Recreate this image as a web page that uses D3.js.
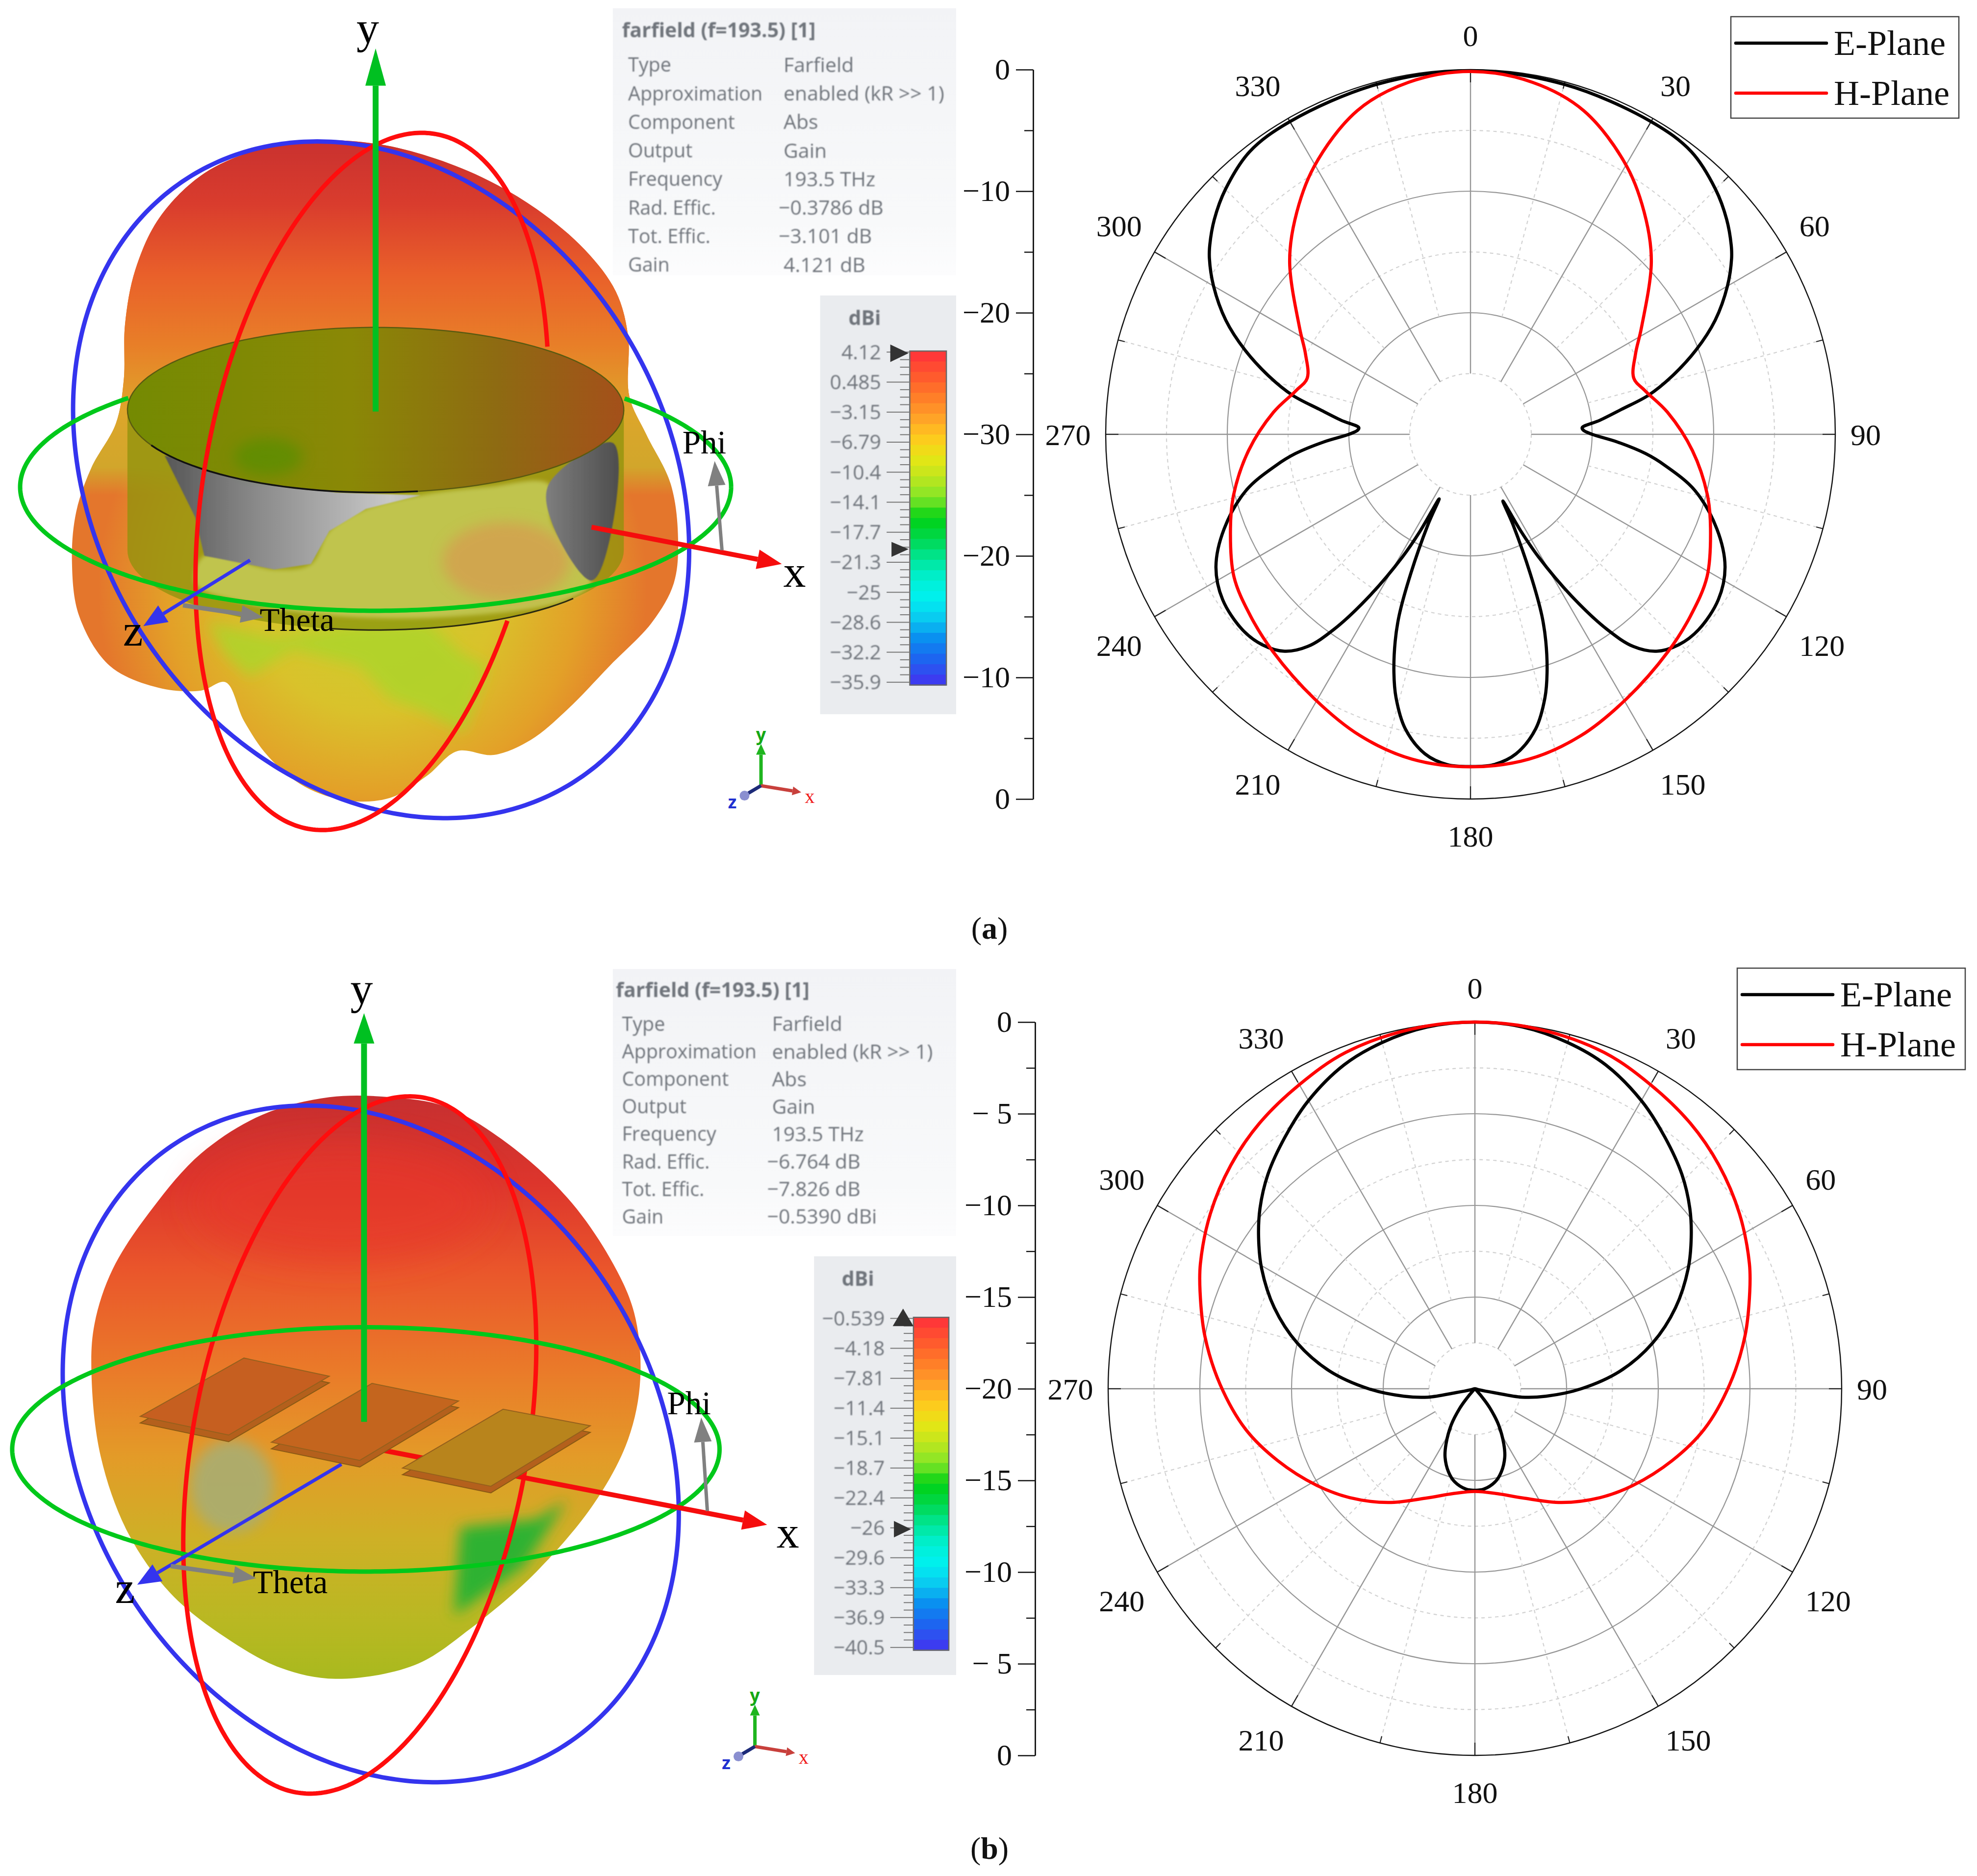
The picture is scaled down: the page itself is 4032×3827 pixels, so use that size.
<!DOCTYPE html>
<html>
<head>
<meta charset="utf-8">
<style>
  html, body { margin: 0; padding: 0; background: #fff; }
  svg { display: block; }
  text { font-family: "Liberation Serif", serif; fill: #111; }
</style>
<script src="https://cdn.jsdelivr.net/npm/d3@7"></script>
</head>
<body>
<div id="figure"></div>
<script>
// polar pattern (a), angles in degrees and gain in dB
var eAnglesA = [0,15,30,38,45,50,54,56,60,65,69.5,74,77.6,80.6,83.8,86.6,88,90,93,96.3,99.1,104,111,117.5,123.7,130.6,135.3,139.4,142.5,145,148,151,152.5,154.1,154.8,156.8,158.5,160,162.2,164.2,167.5,171.9,176,180,
  184,188.1,192.5,195.8,197.8,200,201.5,203.2,205.2,205.9,207.5,209,212,215,217.5,220.6,224.7,229.4,236.3,242.5,249,256,260.9,263.7,267,270,272,273.4,276.2,279.4,282.4,286,290.5,295,300,304,306,310,315,322,330,345];
var eGainA = [-0.1,-0.2,-0.3,-0.5,-1.5,-2.5,-3.5,-4.1,-5.6,-7.8,-10.2,-12.8,-15,-17.4,-19.3,-20.8,-20.7,-20,-17.9,-15.5,-13.8,-11,-8.3,-6.4,-5.5,-5.3,-5.65,-6.5,-8,-10.4,-14.3,-18.5,-21,-23.9,-21.8,-17.5,-14,-11.9,-9.4,-7.5,-5.2,-3.45,-2.76,-2.67,
  -2.76,-3.45,-5.2,-7.5,-9.4,-11.9,-14,-17.5,-21.8,-24.1,-21,-18.5,-14.3,-10.4,-8,-6.5,-5.65,-5.3,-5.5,-6.4,-8.3,-11,-13.8,-15.5,-17.9,-20,-20.7,-20.8,-19.3,-17.4,-15,-12.8,-10.2,-7.8,-5.6,-4.1,-3.5,-2.5,-1.5,-0.5,-0.3,-0.2];
var hAnglesA = [0,10,19.3,30.3,39.3,46.5,58.3,64,71,76,83.6,94.2,104.3,111.4,121,129.4,137.7,149.4,159.9,169.8,180,190.2,200.1,210.6,222.3,230.6,239,248.6,255.7,265.8,276.4,284,289,296,301.7,313.5,320.7,329.7,340.7,350];
var hGainA = [-0.15,-0.6,-1.8,-4.5,-7.2,-9.5,-13.5,-14.9,-15.8,-15.2,-13.7,-11.7,-9.9,-8.8,-7.3,-6.55,-5.85,-4.75,-3.6,-2.85,-2.65,-2.85,-3.6,-4.75,-5.85,-6.55,-7.3,-8.8,-9.9,-11.7,-13.7,-15.2,-15.8,-14.9,-13.5,-9.5,-7.2,-4.5,-1.8,-0.6];

// polar pattern (b)
var eAnglesB = [0,7.5,15,22,30,37,44,50,55,60.6,68,75.6,83,90,96,100.2,101.5,104,120,136,140,142.2,146.7,152.4,156.5,162.4,167.8,175,180,
  185,192.2,197.6,203.5,207.6,213.3,217.8,220,224,240,256,258.5,259.8,264,270,277,284.4,292,299.4,305,310,316,323,330,338,345,352.5];
var eGainB = [0,-0.1,-0.45,-0.95,-1.85,-2.8,-3.75,-4.7,-5.6,-6.65,-8.2,-10,-12,-14.2,-16.1,-17.4,-18.9,-19.8,-20,-19.9,-19.2,-18.65,-17.66,-16.6,-15.92,-15.24,-14.8,-14.5,-14.46,
  -14.5,-14.8,-15.24,-15.92,-16.6,-17.66,-18.65,-19.2,-19.9,-20,-19.8,-18.9,-17.4,-16.1,-14.2,-12,-10,-8.2,-6.65,-5.6,-4.7,-3.75,-2.8,-1.85,-0.95,-0.45,-0.1];
var hAnglesB = [0,10,21,30,39,47.5,56.5,65.5,70.5,79,89,100,110,121.5,131,142.7,156.4,168,180,192,203.6,217.3,229,238.5,250,260,271,281,289.5,294.5,303.5,312.5,321,330,339,350];
var hGainB = [0,-0.08,-0.35,-0.85,-1.35,-1.95,-2.7,-3.55,-4.1,-5,-6.1,-7.3,-8.55,-9.9,-10.95,-12.2,-13.5,-14.15,-14.4,-14.15,-13.5,-12.2,-10.95,-9.9,-8.55,-7.3,-6.1,-5,-4.1,-3.55,-2.7,-1.95,-1.35,-0.85,-0.35,-0.08];

var angleLabels = [0,30,60,90,120,150,180,210,240,270,300,330];
var axisLabelsA = ["0","−10","−20","−30","−20","−10","0"];
var axisLabelsB = ["0","− 5","−10","−15","−20","−15","−10","− 5","0"];
var legendNames = ["E-Plane","H-Plane"];
var legendColors = ["#000","#f00"];

// CST farfield panels
var infoNames = ["Type","Approximation","Component","Output","Frequency","Rad. Effic.","Tot. Effic.","Gain"];
var infoValuesA = ["Farfield","enabled (kR >> 1)","Abs","Gain","193.5 THz","−0.3786 dB","−3.101 dB","4.121 dB"];
var infoValuesB = ["Farfield","enabled (kR >> 1)","Abs","Gain","193.5 THz","−6.764 dB","−7.826 dB","−0.5390 dBi"];
var barTicksA = ["4.12","0.485","−3.15","−6.79","−10.4","−14.1","−17.7","−21.3","−25","−28.6","−32.2","−35.9"];
var barTicksB = ["−0.539","−4.18","−7.81","−11.4","−15.1","−18.7","−22.4","−26","−29.6","−33.3","−36.9","−40.5"];
var barColors = ["#ff3838","#ff5a2d","#ff7d28","#ffa028","#ffc81e","#e8e614","#bee61e","#82e628","#00d214","#00d74b","#00e696","#00f0d2","#00f0f0","#0ac8f0","#0a8cf0","#1e64f0","#3c3cf0"];

// outlines of the 3D solids, read in crop units (1568 wide, 1568 high)
var blobA = [[203,690],[205,590],[222,490],[262,395],[335,315],[430,270],[520,255],[620,262],[705,285],[790,322],[880,380],[960,455],[1010,530],[1030,610],[1032,720],[1060,790],[1100,880],[1112,980],[1105,1060],[1070,1130],[1000,1210],[930,1290],[870,1345],[810,1372],[750,1365],[700,1410],[640,1450],[570,1455],[500,1430],[440,1375],[400,1310],[370,1240],[330,1255],[260,1250],[180,1210],[130,1120],[118,1020],[125,930],[150,850],[190,770]];
var blobB = [[150,750],[155,660],[185,560],[250,450],[330,350],[430,280],[540,248],[640,248],[730,265],[830,330],[930,430],[1000,540],[1040,640],[1050,760],[1030,870],[975,985],[880,1110],[770,1215],[680,1280],[550,1305],[460,1285],[370,1230],[280,1150],[210,1040],[165,900]];
var greyLeft = [[270,828],[360,852],[550,895],[690,900],[600,925],[540,965],[510,1025],[450,1035],[335,1010],[320,940]];
var greyRight = [[1005,805],[900,880],[905,950],[970,1055],[1000,980]];
var yellowBody = [[335,1010],[450,1035],[510,1025],[540,965],[600,925],[690,900],[800,885],[900,880],[905,950],[970,1055],[930,1090],[750,1120],[560,1120],[400,1095],[320,1060]];
var limeA = [[340,1130],[450,1160],[560,1140],[700,1130],[760,1190],[800,1210],[760,1330],[690,1290],[640,1270],[590,1210],[480,1180],[410,1230],[370,1190]];
var patchesB = [
  [[230,828],[400,722],[540,755],[375,862]],
  [[445,875],[610,768],[752,800],[590,908]],
  [[660,922],[825,815],[968,845],[805,955]]
];
var greenB = [[755,1030],[880,1015],[930,980],[860,1100],[745,1190]];

// text tweaks for the angle labels, page pixels
var labelShift = {0:[0,8],30:[7,0],60:[-10,-15],90:[-16,0],120:[5,19],150:[22,1],180:[0,-3],210:[-23,1],240:[-5,19],270:[1,0],300:[-5,-15],330:[-23,0]};

var svg = d3.select("#figure").append("svg").attr("width", 4032).attr("height", 3827);
var defs = svg.append("defs");

function stops(id, list, attrs) {
  var g = defs.append(attrs.r ? "radialGradient" : "linearGradient").attr("id", id).attr("gradientUnits", "userSpaceOnUse");
  Object.keys(attrs).forEach(function(k) { g.attr(k, attrs[k]); });
  list.forEach(function(s) {
    g.append("stop").attr("offset", s[0]).attr("stop-color", s[1]).attr("stop-opacity", s[2] === undefined ? 1 : s[2]);
  });
}

[["soft", 1.2], ["blur3", 4], ["blur", 14], ["blur2", 34]].forEach(function(f) {
  defs.append("filter").attr("id", f[0]).attr("x", "-30%").attr("y", "-30%").attr("width", "160%").attr("height", "160%")
    .append("feGaussianBlur").attr("stdDeviation", f[1]);
});

// ---------- polar plots ----------
function polarPlot(cfg) {
  var g = svg.append("g").attr("transform", `translate(${cfg.cx}, ${cfg.cy})`);
  var rscale = d3.scaleLinear().domain([cfg.floor, 0]).range([0, cfg.R]);
  var rad = d3.scaleLinear().domain([0, 360]).range([0, 2 * Math.PI]);
  var holeDb = cfg.floor + cfg.step / 2;

  // rings
  var solid = d3.range(cfg.floor + cfg.step, 0, cfg.step);
  var dashed = solid.map(d => d - cfg.step / 2).concat([-cfg.step / 2]);
  g.selectAll(".ring").data(solid).enter().append("circle").attr("r", d => rscale(d))
    .attr("fill", "none").attr("stroke", "#969696").attr("stroke-width", 2.2);
  g.selectAll(".dring").data(dashed).enter().append("circle").attr("r", d => rscale(d))
    .attr("fill", "none").attr("stroke", "#d2d2d2").attr("stroke-width", 2.2).attr("stroke-dasharray", "7 7");

  // spokes
  var px = (a, r) => r * Math.sin(rad(a));
  var py = (a, r) => -r * Math.cos(rad(a));
  var majors = d3.range(0, 360, 30);
  var minors = d3.range(15, 360, 30);
  g.selectAll(".spoke").data(majors).enter().append("line")
    .attr("x1", d => px(d, rscale(holeDb))).attr("y1", d => py(d, rscale(holeDb)))
    .attr("x2", d => px(d, cfg.R)).attr("y2", d => py(d, cfg.R))
    .attr("stroke", "#969696").attr("stroke-width", 2.4);
  g.selectAll(".mspoke").data(minors).enter().append("line")
    .attr("x1", d => px(d, rscale(cfg.floor + cfg.step))).attr("y1", d => py(d, rscale(cfg.floor + cfg.step)))
    .attr("x2", d => px(d, cfg.R)).attr("y2", d => py(d, cfg.R))
    .attr("stroke", "#d2d2d2").attr("stroke-width", 2.2).attr("stroke-dasharray", "7 7");
  g.selectAll(".tick1").data(majors).enter().append("line")
    .attr("x1", d => px(d, cfg.R - 26)).attr("y1", d => py(d, cfg.R - 26))
    .attr("x2", d => px(d, cfg.R)).attr("y2", d => py(d, cfg.R))
    .attr("stroke", "#222").attr("stroke-width", 2.2);
  g.selectAll(".tick2").data(minors).enter().append("line")
    .attr("x1", d => px(d, cfg.R - 14)).attr("y1", d => py(d, cfg.R - 14))
    .attr("x2", d => px(d, cfg.R)).attr("y2", d => py(d, cfg.R))
    .attr("stroke", "#222").attr("stroke-width", 2.2);
  g.append("circle").attr("r", cfg.R).attr("fill", "none").attr("stroke", "#111").attr("stroke-width", 2.4);

  // curves
  function curve(angles, gains, color) {
    var line = d3.lineRadial()
      .angle(i => rad(angles[i]))
      .radius(i => Math.max(0, rscale(gains[i])))
      .curve(d3.curveCatmullRomClosed.alpha(0.5));
    g.append("path").attr("d", line(d3.range(angles.length)))
      .attr("fill", "none").attr("stroke", color).attr("stroke-width", 6.5).attr("stroke-linejoin", "round");
  }
  curve(cfg.eAngles, cfg.eGain, legendColors[0]);
  curve(cfg.hAngles, cfg.hGain, legendColors[1]);

  // angle labels
  g.selectAll(".alabel").data(angleLabels).enter().append("text")
    .attr("x", d => px(d, cfg.R + 78) + labelShift[d][0]).attr("y", d => py(d, cfg.R + 78) + labelShift[d][1])
    .attr("dy", "0.35em").attr("text-anchor", "middle").attr("font-size", 62).text(d => d);

  // linear axis at the left
  var n = cfg.axisLabels.length - 1;
  var yscale = d3.scaleLinear().domain([0, n]).range([cfg.cy - cfg.R, cfg.cy + cfg.R]);
  var axisleft = d3.axisLeft(yscale).tickValues(d3.range(n + 1)).tickSize(35).tickSizeOuter(0).tickPadding(12)
    .tickFormat(i => cfg.axisLabels[i]);
  var minorleft = d3.axisLeft(yscale).tickValues(d3.range(0.5, n, 1)).tickSize(18).tickSizeOuter(0).tickFormat("");
  var ax = svg.append("g").attr("transform", `translate(${cfg.axisX}, 0)`);
  ax.append("g").call(minorleft);
  ax.append("g").call(axisleft);
  ax.selectAll("text").attr("font-size", 62).attr("font-family", "Liberation Serif").style("fill", "#111");
  ax.selectAll("line,path").attr("stroke", "#111").attr("stroke-width", 2.4);

  // legend
  var lg = svg.append("g");
  lg.append("rect").attr("x", cfg.legend[0]).attr("y", cfg.legend[1]).attr("width", 465).attr("height", 207)
    .attr("fill", "#fff").attr("stroke", "#444").attr("stroke-width", 2.5);
  legendNames.forEach(function(name, i) {
    var y = cfg.legend[1] + 54 + i * 102;
    lg.append("line").attr("x1", cfg.legend[0] + 10).attr("x2", cfg.legend[0] + 195).attr("y1", y).attr("y2", y)
      .attr("stroke", legendColors[i]).attr("stroke-width", 6.5).attr("stroke-linecap", "round");
    lg.append("text").attr("x", cfg.legend[0] + 210).attr("y", y + 24).attr("font-size", 72).text(name);
  });
}

polarPlot({cx: 2999, cy: 886, R: 744, floor: -30, step: 10, axisX: 2107, axisLabels: axisLabelsA,
  eAngles: eAnglesA, eGain: eGainA, hAngles: hAnglesA, hGain: hGainA, legend: [3530, 34]});
polarPlot({cx: 3008, cy: 2833, R: 748, floor: -20, step: 5, axisX: 2111, axisLabels: axisLabelsB,
  eAngles: eAnglesB, eGain: eGainB, hAngles: hAnglesB, hGain: hGainB, legend: [3543, 1975]});

// ---------- 3D panels ----------
function panel(cfg) {
  var x = d3.scaleLinear().domain([0, 1568]).range([0, 1950]);
  var y = d3.scaleLinear().domain([0, 1568]).range([cfg.top, cfg.top + 1760]);
  var g = svg.append("g");
  var smooth = d3.line().x(d => x(d[0])).y(d => y(d[1])).curve(d3.curveCatmullRomClosed.alpha(0.5));
  var poly = d3.line().x(d => x(d[0])).y(d => y(d[1])).curve(d3.curveLinearClosed);

  function ring(cx, cy, a, b, rot, color, hidden) {
    var t = d3.range(0, 2 * Math.PI + 0.01, 0.015);
    var c = Math.cos(rot * Math.PI / 180), s = Math.sin(rot * Math.PI / 180);
    var pts = t.map(function(v) {
      var u = b * Math.cos(v), w = -a * Math.sin(v);
      return [cx + u * c - w * s, cy + u * s + w * c];
    });
    var line = d3.line().x(d => x(d[0])).y(d => y(d[1]))
      .defined(d => !(hidden && hidden(d)));
    g.append("path").attr("d", line(pts)).attr("fill", "none").attr("stroke", color).attr("stroke-width", 9);
  }
  function arrow(x1, y1, x2, y2, color, w, hl, hw) {
    var X1 = x(x1), Y1 = y(y1), X2 = x(x2), Y2 = y(y2);
    var L = Math.hypot(X2 - X1, Y2 - Y1), ux = (X2 - X1) / L, uy = (Y2 - Y1) / L;
    var bx = X2 - ux * hl, by = Y2 - uy * hl;
    g.append("line").attr("x1", X1).attr("y1", Y1).attr("x2", bx).attr("y2", by)
      .attr("stroke", color).attr("stroke-width", w);
    g.append("polygon").attr("fill", color)
      .attr("points", [[X2, Y2], [bx - uy * hw, by + ux * hw], [bx + uy * hw, by - ux * hw]].map(String).join(" "));
  }
  function label(txt, px, py, size, color, anchor) {
    g.append("text").attr("x", x(px)).attr("y", y(py)).attr("dy", "0.35em")
      .attr("text-anchor", anchor || "middle").attr("font-size", size).style("fill", color || "#000").text(txt);
  }
  cfg.draw({g: g, x: x, y: y, smooth: smooth, poly: poly, ring: ring, arrow: arrow, label: label});

  // info table
  var info = cfg.info;
  var infoBg = "info" + cfg.top;
  stops(infoBg, [[0, "#f2f3f6"], [0.8, "#f8f9fa"], [1, "#fcfcfd"]], {x1: 0, y1: y(15), x2: 0, y2: y(500)});
  g.append("rect").attr("x", x(1005)).attr("y", y(15)).attr("width", x(1568) - x(1005)).attr("height", y(500) - y(15))
    .attr("fill", `url(#${infoBg})`);
  var tg = g.append("g").attr("filter", "url(#soft)");
  tg.append("text").attr("x", x(info.titleX)).attr("y", y(info.titleY)).attr("dy", "0.35em")
    .attr("font-size", 41).attr("font-weight", "bold").style("font-family", "Open Sans").style("fill", "#6f747b")
    .text("farfield (f=193.5) [1]");
  infoNames.forEach(function(name, i) {
    var ry = y(info.rowY + i * info.rowStep);
    tg.append("text").attr("x", x(info.nameX)).attr("y", ry).attr("dy", "0.35em").attr("font-size", 39.5)
      .style("font-family", "Open Sans").style("fill", "#6f747b").text(name);
    tg.append("text").attr("x", x(cfg.values[i][0] === "−" ? info.valueX - 8 : info.valueX)).attr("y", ry).attr("dy", "0.35em").attr("font-size", 41)
      .style("font-family", "Open Sans").style("fill", "#6f747b").text(cfg.values[i]);
  });

  // colour bar
  var bar = cfg.bar;
  g.append("rect").attr("x", x(bar.panelX)).attr("y", y(537)).attr("width", x(1568) - x(bar.panelX)).attr("height", y(1298) - y(537))
    .attr("fill", "#eaecef");
  var ty = d3.scaleLinear().domain([0, cfg.ticks.length - 1]).range([bar.y0, bar.y1]);
  var color = d3.scaleLinear().domain(barColors.map((c, i) => i / (barColors.length - 1))).range(barColors);
  var bands = d3.range(32);
  var band = d3.scaleBand().domain(bands).range([y(bar.top), y(bar.bottom)]);
  g.selectAll(null).data(bands).enter().append("rect")
    .attr("x", x(bar.x0)).attr("width", x(bar.x1) - x(bar.x0))
    .attr("y", d => band(d)).attr("height", band.bandwidth() + 1)
    .attr("fill", d => color(d / 31));
  g.append("rect").attr("x", x(bar.x0)).attr("y", y(bar.top)).attr("width", x(bar.x1) - x(bar.x0)).attr("height", y(bar.bottom) - y(bar.top))
    .attr("fill", "none").attr("stroke", "#666").attr("stroke-width", 2.5);
  var minorTicks = d3.range(0, (cfg.ticks.length - 1) + 0.01, 0.25);
  g.selectAll(null).data(minorTicks).enter().append("line")
    .attr("x1", d => x(d % 1 === 0 ? bar.x0 - 38 : bar.x0 - 16)).attr("x2", x(bar.x0))
    .attr("y1", d => y(ty(d))).attr("y2", d => y(ty(d)))
    .attr("stroke", "#777").attr("stroke-width", 2);
  var bt = g.append("g").attr("filter", "url(#soft)");
  bt.append("text").attr("x", x(bar.titleX)).attr("y", y(578)).attr("dy", "0.35em").attr("text-anchor", "middle")
    .attr("font-size", 41).attr("font-weight", "bold").style("font-family", "Open Sans").style("fill", "#6f747b").text("dBi");
  bt.selectAll(null).data(cfg.ticks).enter().append("text")
    .attr("x", x(bar.x0 - 47)).attr("y", (d, i) => y(ty(i))).attr("dy", "0.35em").attr("text-anchor", "end")
    .attr("font-size", 41).style("font-family", "Open Sans").style("fill", "#6f747b").text(d => d);
  // little value markers
  var mark = d3.line().x(d => x(d[0])).y(d => y(d[1]));
  bar.markers.forEach(function(m) {
    g.append("path").attr("d", mark(m) + "Z").attr("fill", "#333");
  });

  // small triad
  var t = cfg.triad;
  arrow(t, 1428, t, 1352, "#1fb51f", 7, 22, 10);
  arrow(t, 1428, t + 66, 1440, "#c8403c", 7, 18, 9);
  g.append("line").attr("x1", x(t)).attr("y1", y(1428)).attr("x2", x(t - 26)).attr("y2", y(1445))
    .attr("stroke", "#1c2a78").attr("stroke-width", 7);
  g.append("circle").attr("cx", x(t - 27)).attr("cy", y(1446)).attr("r", 10).attr("fill", "#8a8fd0");
  g.append("text").attr("x", x(t)).attr("y", y(1335)).attr("dy", "0.35em").attr("text-anchor", "middle")
    .attr("font-size", 36).attr("font-weight", "bold").style("font-family", "Open Sans").style("fill", "#15a815").text("y");
  g.append("text").attr("x", x(t + 80)).attr("y", y(1447)).attr("dy", "0.35em").attr("text-anchor", "middle")
    .attr("font-size", 40).style("fill", "#f01c1c").text("x");
  g.append("text").attr("x", x(t - 47)).attr("y", y(1458)).attr("dy", "0.35em").attr("text-anchor", "middle")
    .attr("font-size", 36).attr("font-weight", "bold").style("font-family", "Open Sans").style("fill", "#2030d0").text("z");
}

// panel gradients, coordinates in page pixels
stops("topA", [[0, "#c9312f"], [0.18, "#d93c2d"], [0.38, "#e9602a"], [0.58, "#e87f28"], [0.76, "#dea52a"], [0.92, "#cdb22b", 0.8], [1, "#cdb22b", 0]],
  {x1: 0, y1: 285, x2: 0, y2: 1010});
stops("lowA", [[0, "#c9cf2e"], [0.45, "#d9c22b"], [0.75, "#e3a028"], [1, "#e4762c"]],
  {cx: 760, cy: 1200, r: 560});
stops("capA", [[0, "#748a02"], [0.45, "#8a8806"], [0.75, "#8e6a12"], [1, "#a4501a"]],
  {x1: 262, y1: 0, x2: 1270, y2: 0});
stops("greyA", [[0, "#555"], [0.2, "#888"], [0.5, "#c8c8c8"], [0.75, "#9a9a9a"], [1, "#4e4e4e"]],
  {x1: 330, y1: 0, x2: 1260, y2: 0});
stops("topB", [[0, "#c62f30"], [0.15, "#dd352c"], [0.3, "#ea562b"], [0.47, "#ea7a29"], [0.62, "#e39b28"], [0.76, "#ceb026"], [0.9, "#b9b822"], [1, "#a9b91e"]],
  {x1: 0, y1: 2235, x2: 0, y2: 3425});

panel({top: 0, values: infoValuesA, ticks: barTicksA, triad: 1248,
  info: {titleX: 1020, titleY: 55, rowY: 118, rowStep: 51.9, nameX: 1030, valueX: 1285},
  bar: {panelX: 1345, x0: 1492, x1: 1552, top: 638, bottom: 1245, y0: 640, y1: 1240, titleX: 1418,
    markers: [[[1460,626],[1490,642],[1460,658]], [[1462,985],[1490,998],[1462,1012]]]},
  draw: function(p) {
    var g = p.g;
    g.append("path").attr("d", p.smooth(blobA)).attr("fill", "url(#lowA)");
    g.append("path").attr("d", p.smooth(blobA)).attr("fill", "url(#topA)");
    g.append("path").attr("d", p.poly(limeA)).attr("fill", "#aed42a").attr("opacity", 0.85).attr("filter", "url(#blur)");
    // cylinder body
    var cx = 616, rx = 407;
    var cap = d3.range(0, 2 * Math.PI + 0.05, 0.05).map(t => [cx + rx * Math.cos(t), 745 + 150 * Math.sin(t)]);
    var base = d3.range(0, Math.PI + 0.05, 0.05).map(t => [cx + rx * Math.cos(t), 1000 + 145 * Math.sin(t)]);
    var side = d3.range(Math.PI, -0.05, -0.05).map(t => [cx + rx * Math.cos(t), 745 + 150 * Math.sin(t)]);
    g.append("path").attr("d", p.poly(base.concat(side))).attr("fill", "#8d920c").attr("opacity", 0.75);
    g.append("path").attr("d", p.smooth(yellowBody)).attr("fill", "#c0c44e").attr("filter", "url(#blur3)");
    g.append("ellipse").attr("cx", p.x(830)).attr("cy", p.y(1020)).attr("rx", 130).attr("ry", 80).attr("fill", "#d89a50").attr("opacity", 0.7).attr("filter", "url(#blur)");
    g.append("path").attr("d", p.poly(greyLeft)).attr("fill", "url(#greyA)").attr("filter", "url(#soft)");
    g.append("path").attr("d", p.smooth(greyRight)).attr("fill", "url(#greyA)").attr("filter", "url(#soft)");
    var rim = d3.line().x(d => p.x(d[0])).y(d => p.y(d[1]));
    g.append("path").attr("d", rim(base.filter(d => d[0] > 540 && d[0] < 950))).attr("fill", "none").attr("stroke", "#2a2a10").attr("stroke-width", 3);
    g.append("path").attr("d", p.poly(cap)).attr("fill", "url(#capA)").attr("stroke", "#5a5a10").attr("stroke-width", 2.5);
    g.append("ellipse").attr("cx", p.x(440)).attr("cy", p.y(830)).attr("rx", 70).attr("ry", 38).attr("fill", "#4f9000").attr("opacity", 0.6).attr("filter", "url(#blur)");
    g.append("path").attr("d", rim(cap.filter(d => d[1] > 745 && d[0] > 240 && d[0] < 700))).attr("fill", "none").attr("stroke", "#111").attr("stroke-width", 3.5);
    // sphere rings
    p.ring(625, 872, 637, 477, -23.2, "#3434ee");
    p.ring(610, 875, 640, 275, 9, "#ff0d0d", d => d[0] > 700 && d[1] > 632 && d[1] < 1125);
    p.ring(616, 885, 225, 583, 0, "#00c81a", d => d[1] < 885 && d[0] > 215 && d[0] < 1020);
    // axes
    p.arrow(616, 748, 616, 88, "#00c021", 12, 76, 21);
    p.arrow(970, 958, 1282, 1025, "#f50d0d", 10, 50, 20);
    p.arrow(410, 1018, 235, 1138, "#3434ee", 7, 48, 20);
    p.arrow(1184, 1000, 1172, 838, "#808080", 7, 50, 18);
    p.arrow(300, 1100, 432, 1122, "#808080", 9, 46, 18);
    p.label("y", 603, 50, 92); p.label("x", 1303, 1038, 92); p.label("z", 218, 1145, 92);
    p.label("Phi", 1155, 803, 67); p.label("Theta", 487, 1126, 67);
  }
});

panel({top: 1960, values: infoValuesB, ticks: barTicksB, triad: 1238,
  info: {titleX: 1010, titleY: 53, rowY: 115, rowStep: 50, nameX: 1020, valueX: 1266},
  bar: {panelX: 1335, x0: 1498, x1: 1556, top: 648, bottom: 1253, y0: 650, y1: 1248, titleX: 1407,
    markers: [[[1464,664],[1481,632],[1498,664]], [[1466,1018],[1494,1033],[1466,1048]]]},
  draw: function(p) {
    var g = p.g;
    g.append("path").attr("d", p.smooth(blobB)).attr("fill", "url(#topB)");
    g.append("ellipse").attr("cx", p.x(560)).attr("cy", p.y(440)).attr("rx", 300).attr("ry", 120).attr("fill", "#e8392c").attr("opacity", 0.6).attr("filter", "url(#blur2)");
    g.append("path").attr("d", p.poly(greenB)).attr("fill", "#2fb233").attr("filter", "url(#blur)");
    g.append("ellipse").attr("cx", p.x(380)).attr("cy", p.y(955)).attr("rx", 85).attr("ry", 95).attr("fill", "#a9ad72").attr("opacity", 0.9).attr("filter", "url(#blur)");
    var plate = function(q, fill) {
      var thick = q.map(d => [d[0], d[1] + 12]);
      g.append("path").attr("d", p.poly(thick)).attr("fill", "#b4601c").attr("stroke", "#8a5a14").attr("stroke-width", 2);
      g.append("path").attr("d", p.poly(q)).attr("fill", fill).attr("stroke", "#96601c").attr("stroke-width", 2);
    };
    plate(patchesB[0], "#c65f20");
    p.ring(608, 878, 637, 477, -23.2, "#3434ee");
    p.ring(590, 880, 640, 275, 9, "#ff0d0d");
    p.ring(600, 888, 222, 580, 0, "#00c81a");
    p.arrow(630, 890, 1258, 1025, "#f50d0d", 10, 50, 20);
    p.arrow(560, 915, 225, 1134, "#3434ee", 7, 48, 20);
    plate(patchesB[1], "#c4651e");
    plate(patchesB[2], "#b8841c");
    p.arrow(597, 838, 597, 95, "#00c021", 12, 62, 21);
    p.arrow(1160, 1000, 1150, 830, "#808080", 7, 50, 18);
    p.arrow(280, 1100, 420, 1122, "#808080", 9, 46, 18);
    p.label("y", 593, 50, 92); p.label("x", 1292, 1038, 92); p.label("z", 205, 1138, 92);
    p.label("Phi", 1130, 803, 67); p.label("Theta", 476, 1128, 67);
  }
});

// captions
[["a", 1893], ["b", 3770]].forEach(function(c) {
  var t = svg.append("text").attr("x", 2018).attr("y", c[1]).attr("dy", "0.35em").attr("text-anchor", "middle").attr("font-size", 64);
  t.append("tspan").text("(");
  t.append("tspan").attr("font-weight", "bold").text(c[0]);
  t.append("tspan").text(")");
});
</script>
</body>
</html>
